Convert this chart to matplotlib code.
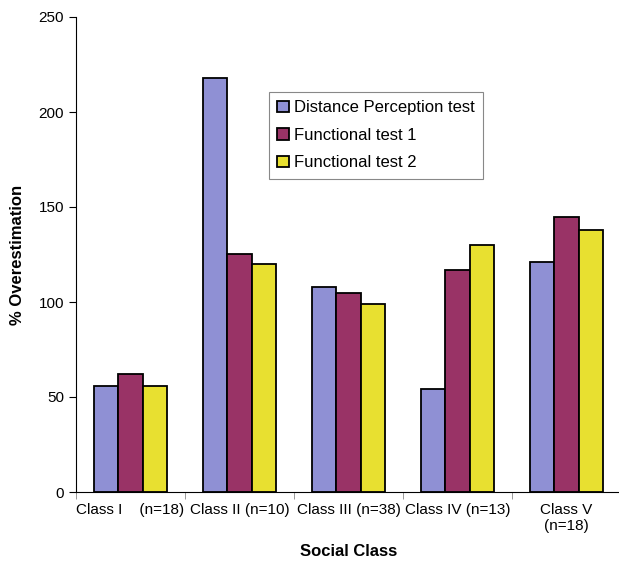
import numpy as np
import matplotlib
matplotlib.use("Agg")
import matplotlib.pyplot as plt
from matplotlib.patches import Patch

plt.rcParams["font.family"] = ["Liberation Sans", "DejaVu Sans"]

categories = ["Class I    (n=18)", "Class II (n=10)", "Class III (n=38)",
              "Class IV (n=13)", "Class V\n(n=18)"]
series_names = ["Distance Perception test", "Functional test 1", "Functional test 2"]
distance = [56, 218, 108, 54, 121]
functional1 = [62, 125, 105, 117, 145]
functional2 = [56, 120, 99, 130, 138]
colors = ["#8F90D4", "#993366", "#E8E030"]

fig = plt.figure(figsize=(6.19, 5.64), dpi=100)
ax = fig.add_axes([76 / 619, 72 / 564, 545 / 619, 475 / 564])

x = np.arange(len(categories))
w = 0.222
for i, (vals, c) in enumerate(zip([distance, functional1, functional2], colors)):
    ax.bar(x + (i - 1) * w, vals, width=w, color=c, edgecolor="black", linewidth=1.3)

ax.set_xlim(-0.5, len(categories) - 0.5)
ax.set_ylim(0, 250)
ax.set_yticks([0, 50, 100, 150, 200, 250])
ax.set_xticks(x)
ax.set_xticklabels(categories, fontsize=11)
ax.set_xticks(np.arange(len(categories)) - 0.5, minor=True)
ax.tick_params(axis="x", which="major", length=0, pad=8)
ax.tick_params(axis="x", which="minor", length=5, color="#888888")
ax.tick_params(axis="y", labelsize=11, length=5)
ax.spines["top"].set_visible(False)
ax.spines["right"].set_visible(False)

ax.set_ylabel("% Overestimation", fontsize=12, fontweight="bold", labelpad=10)
ax.set_xlabel("Social Class", fontsize=12, fontweight="bold", labelpad=8)

handles = [Patch(facecolor=c, edgecolor="black", linewidth=1.3) for c in colors]
leg = ax.legend(handles, series_names, loc="upper left", bbox_to_anchor=(0.354, 0.842),
                borderaxespad=0, fontsize=12, fancybox=False, framealpha=1,
                edgecolor="#888888", handlelength=0.7, handleheight=0.7,
                handletextpad=0.3, labelspacing=0.75, borderpad=0.5)
leg.get_frame().set_linewidth(0.8)

fig.savefig("out.png", dpi=100)
